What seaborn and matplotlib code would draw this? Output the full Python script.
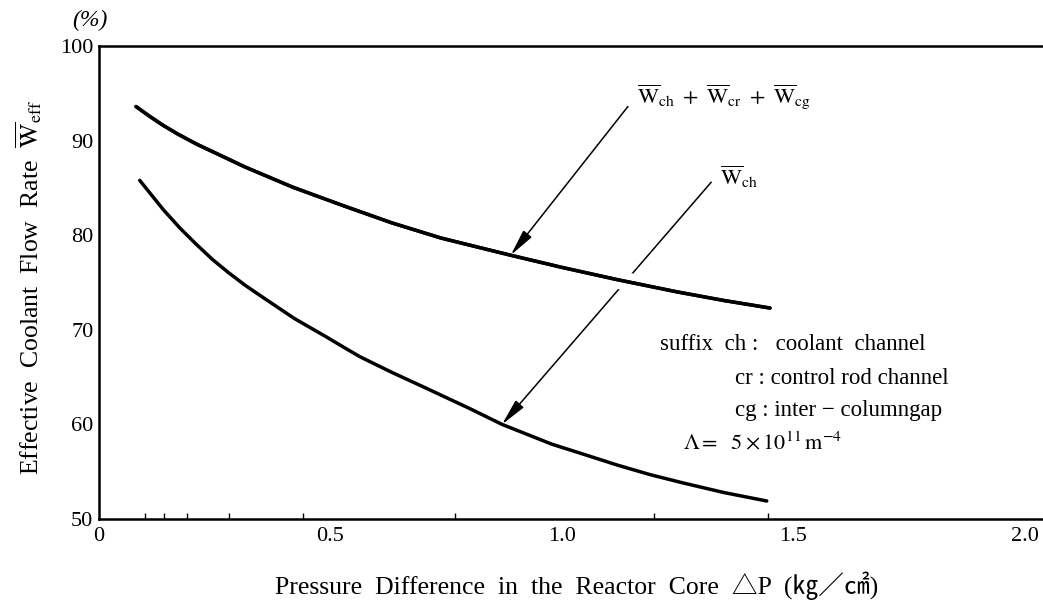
import matplotlib
matplotlib.use("Agg")
import matplotlib.pyplot as plt
import matplotlib.patheffects as pe
import numpy as np
import pandas as pd
import seaborn as sns

# Pressure difference (kg/cm2) and effective coolant flow rate (%)
total_dp = [0.080, 0.110, 0.139, 0.170, 0.21, 0.316, 0.42, 0.529, 0.633, 0.739, 0.888,
            1.00, 1.12, 1.25, 1.35, 1.45]
total_flow = [93.6, 92.55, 91.6, 90.7, 89.65, 87.2, 85.05, 83.1, 81.3, 79.7, 77.9,
              76.6, 75.3, 74.0, 73.1, 72.3]

channel_dp = [0.088, 0.139, 0.175, 0.210, 0.246, 0.281, 0.316, 0.352, 0.387, 0.422, 0.493,
              0.529, 0.564, 0.635, 0.706, 0.741, 0.80, 0.871, 0.979, 1.05, 1.12, 1.19,
              1.263, 1.35, 1.443]
channel_flow = [85.8, 82.7, 80.75, 79.05, 77.4, 76.0, 74.7, 73.5, 72.35, 71.2, 69.2,
                68.15, 67.15, 65.45, 63.85, 63.05, 61.7, 60.0, 57.9, 56.8, 55.7, 54.7,
                53.8, 52.8, 51.9]

x_ticks = [0, 0.5, 1.0, 1.5, 2.0]
x_tick_labels = ["0", "0.5", "1.0", "1.5", "2.0"]
x_minor = [0.10, 0.14, 0.19, 0.28, 0.44, 0.77, 1.20, 1.445]
y_ticks = [50, 60, 70, 80, 90, 100]

sns.set_theme(style="white")
plt.rcParams["font.family"] = ["Liberation Serif", "Noto Sans CJK JP", "DejaVu Sans"]
plt.rcParams["mathtext.fontset"] = "stix"

df = pd.concat([
    pd.DataFrame({"dp": total_dp, "flow": total_flow, "series": "total"}),
    pd.DataFrame({"dp": channel_dp, "flow": channel_flow, "series": "channel"}),
])

fig = plt.figure(figsize=(10.43, 6.06), dpi=100)
ax = fig.add_axes([0.0949, 0.1436, 0.9051, 0.7805])

arrow_style = dict(arrowstyle="-|>,head_length=0.9,head_width=0.18",
                   lw=1.1, color="black", mutation_scale=18, shrinkA=0, shrinkB=0)

# arrow for the channel curve sits underneath the total curve
ax.annotate("", xy=(0.871, 60.0), xytext=(1.323, 85.6), arrowprops=arrow_style, zorder=1)

sns.lineplot(data=df[df.series == "channel"], x="dp", y="flow", ax=ax,
             color="black", lw=2.5, zorder=2, legend=False)
sns.lineplot(data=df[df.series == "total"], x="dp", y="flow", ax=ax,
             color="black", lw=2.5, zorder=3, legend=False,
             path_effects=[pe.withStroke(linewidth=13, foreground="white"), pe.Normal()])
for ln in ax.lines:
    ln.set_solid_joinstyle("round")
    ln.set_solid_capstyle("round")

ax.annotate("", xy=(0.89, 77.9), xytext=(1.143, 93.6), arrowprops=arrow_style, zorder=4)

ax.set_xlim(0, 2.04)
ax.set_ylim(50, 100)
ax.set_xticks(x_ticks)
ax.set_xticklabels(x_tick_labels)
ax.set_xticks(x_minor, minor=True)
ax.set_yticks(y_ticks)
ax.tick_params(axis="both", which="major", direction="in", length=10, width=1.3,
               labelsize=16, color="black", labelcolor="black", pad=6)
ax.tick_params(axis="x", which="minor", direction="in", length=4, width=1.0, color="black",
               bottom=True)
ax.tick_params(axis="y", which="major", pad=4)

for side in ["left", "bottom", "top"]:
    ax.spines[side].set_visible(True)
    ax.spines[side].set_color("black")
    ax.spines[side].set_linewidth(1.8)
ax.spines["right"].set_visible(False)
ax.grid(False)

ax.set_xlabel("Pressure  Difference  in  the  Reactor  Core  △P  (㎏／㎠)",
              fontsize=18.5, color="black")
ax.xaxis.set_label_coords(0.506, -0.11)
ax.set_ylabel(r"Effective  Coolant  Flow  Rate  $\overline{\mathrm{W}}_{\mathrm{eff}}$",
              fontsize=18.5, color="black")
ax.yaxis.set_label_coords(-0.058, 0.49)

ax.text(-0.0095, 1.055, "(%)", transform=ax.transAxes, ha="center", va="center",
        fontsize=17, style="italic", color="black")

ax.text(1.163, 94.7,
        r"$\overline{\mathrm{W}}_{\mathrm{ch}}\ +\ \overline{\mathrm{W}}_{\mathrm{cr}}\ +\ \overline{\mathrm{W}}_{\mathrm{cg}}$",
        ha="left", va="center", fontsize=16, color="black")
ax.text(1.342, 86.15, r"$\overline{\mathrm{W}}_{\mathrm{ch}}$",
        ha="left", va="center", fontsize=16, color="black")

ax.text(1.212, 68.4, "suffix  ch :   coolant  channel", ha="left", va="center",
        fontsize=16.5, color="black")
ax.text(1.375, 64.8, "cr : control rod channel", ha="left", va="center",
        fontsize=16.5, color="black")
ax.text(1.375, 61.5, "cg : inter − columngap", ha="left", va="center",
        fontsize=16.5, color="black")
ax.text(1.262, 58.0, r"$\mathit{\Lambda}=\ \ 5\times10^{11}\,\mathrm{m}^{-4}$",
        ha="left", va="center", fontsize=16, color="black")

fig.savefig("out.png", dpi=100)
